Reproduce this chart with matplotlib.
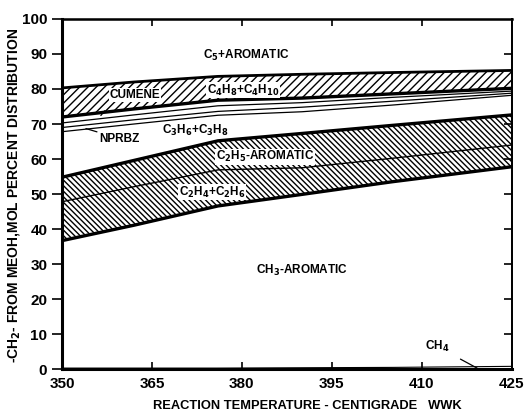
import matplotlib
matplotlib.use('Agg')
import matplotlib.pyplot as plt

plt.rcParams['font.family'] = ['Liberation Sans', 'DejaVu Sans']
plt.rcParams['font.weight'] = 'bold'
plt.rcParams['hatch.linewidth'] = 1.0

# temperature grid (deg C) and band boundaries (mol %)
temps = [350, 362, 376, 390, 405, 425]
c4_top = [80.3, 82.0, 83.6, 84.2, 84.7, 85.3]      # top of C4H8+C4H10 band
c4_bot = [72.0, 74.3, 76.8, 77.4, 78.6, 80.2]      # thick line, top of cumene
cumene_bot = [70.3, 72.6, 75.2, 76.1, 77.6, 79.4]
nprbz_top = [69.0, 71.2, 73.6, 74.8, 76.5, 78.8]
nprbz_bot = [67.8, 70.0, 72.5, 73.5, 75.4, 78.2]   # top of C3H6+C3H8
c2h5_top = [54.8, 59.6, 65.2, 67.3, 69.6, 72.6]
c2h4_top = [47.8, 52.1, 56.9, 57.5, 60.2, 64.0]
ch3_top = [36.7, 41.1, 46.6, 49.9, 53.5, 57.8]
ch4_top = [0.3, 0.3, 0.3, 0.4, 0.5, 0.8]

xticks = [350, 365, 380, 395, 410, 425]
yticks = [0, 10, 20, 30, 40, 50, 60, 70, 80, 90, 100]

fig = plt.figure(figsize=(5.25, 4.12), dpi=100)
ax = fig.add_axes([0.118, 0.104, 0.857, 0.850])

# hatched bands
ax.fill_between(temps, c4_bot, c4_top, facecolor='white', edgecolor='black',
                hatch='////', linewidth=0)
ax.fill_between(temps, ch3_top, c2h5_top, facecolor='white', edgecolor='black',
                hatch='\\\\\\\\\\\\', linewidth=0)

# boundary lines
ax.plot(temps, c4_top, color='black', lw=2.0)
ax.plot(temps, c4_bot, color='black', lw=2.4)
ax.plot(temps, cumene_bot, color='black', lw=0.9)
ax.plot(temps, nprbz_top, color='black', lw=0.9)
ax.plot(temps, nprbz_bot, color='black', lw=0.9)
ax.plot(temps, c2h5_top, color='black', lw=2.4)
ax.plot(temps, c2h4_top, color='black', lw=1.0)
ax.plot(temps, ch3_top, color='black', lw=2.4)
ax.plot(temps, ch4_top, color='black', lw=0.8)

# labels
fs = 8.5
box = dict(facecolor='white', edgecolor='none', pad=0.5)
ax.text(380.8, 89.7, 'C$_5$+AROMATIC', fontsize=fs, ha='center', va='center')
ax.text(362.2, 78.3, 'CUMENE', fontsize=fs, ha='center', va='center', bbox=box)
ax.annotate('', xy=(356.2, 71.8), xytext=(357.4, 74.4),
            arrowprops=dict(arrowstyle='-', color='black', lw=0.9))
ax.text(380.2, 79.7, 'C$_4$H$_8$+C$_4$H$_{10}$', fontsize=fs, ha='center',
        va='center', bbox=box)
ax.text(372.3, 68.3, 'C$_3$H$_6$+C$_3$H$_8$', fontsize=fs, ha='center', va='center')
ax.annotate('NPRBZ', xy=(354.0, 68.7), xytext=(356.3, 65.8), fontsize=fs,
            ha='left', va='center',
            arrowprops=dict(arrowstyle='-', color='black', lw=0.9,
                            shrinkA=0, shrinkB=0))
ax.text(383.8, 60.6, 'C$_2$H$_5$-AROMATIC', fontsize=fs, ha='center', va='center',
        bbox=box)
ax.text(375.0, 50.6, 'C$_2$H$_4$+C$_2$H$_6$', fontsize=fs, ha='center', va='center',
        bbox=box)
ax.text(390.0, 28.3, 'CH$_3$-AROMATIC', fontsize=fs, ha='center', va='center')
ax.annotate('CH$_4$', xy=(419.2, 0.3), xytext=(412.5, 6.5), fontsize=fs,
            ha='center', va='center',
            arrowprops=dict(arrowstyle='-', color='black', lw=0.9,
                            shrinkA=7, shrinkB=0))

ax.set_xlim(350, 425)
ax.set_ylim(0, 100)
ax.set_xticks(xticks)
ax.set_yticks(yticks)
ax.tick_params(axis='y', direction='out', length=7, width=1.2, labelsize=11)
ax.tick_params(axis='x', direction='in', length=5, width=1.2, labelsize=11,
               top=True, pad=6)
for lab in ax.get_xticklabels() + ax.get_yticklabels():
    lab.set_fontweight('bold')

# right side ticks point inward
rax = ax.twinx()
rax.set_ylim(0, 100)
rax.set_yticks(yticks[1:-1])
rax.tick_params(axis='y', direction='in', length=6, width=1.2, labelright=False)

for side in ['left', 'bottom']:
    ax.spines[side].set_linewidth(2.2)
ax.spines['top'].set_linewidth(1.8)
ax.spines['right'].set_linewidth(1.3)
rax.spines['right'].set_linewidth(1.3)

ax.set_xlabel('REACTION TEMPERATURE - CENTIGRADE   WWK', fontsize=9.3,
              fontweight='bold')
ax.xaxis.set_label_coords(0.546, -0.087)
ax.set_ylabel('-CH$_2$- FROM MEOH,MOL PERCENT DISTRIBUTION', fontsize=10,
              fontweight='bold')
ax.yaxis.set_label_coords(-0.089, 0.497)

fig.savefig('out.png', dpi=100)
